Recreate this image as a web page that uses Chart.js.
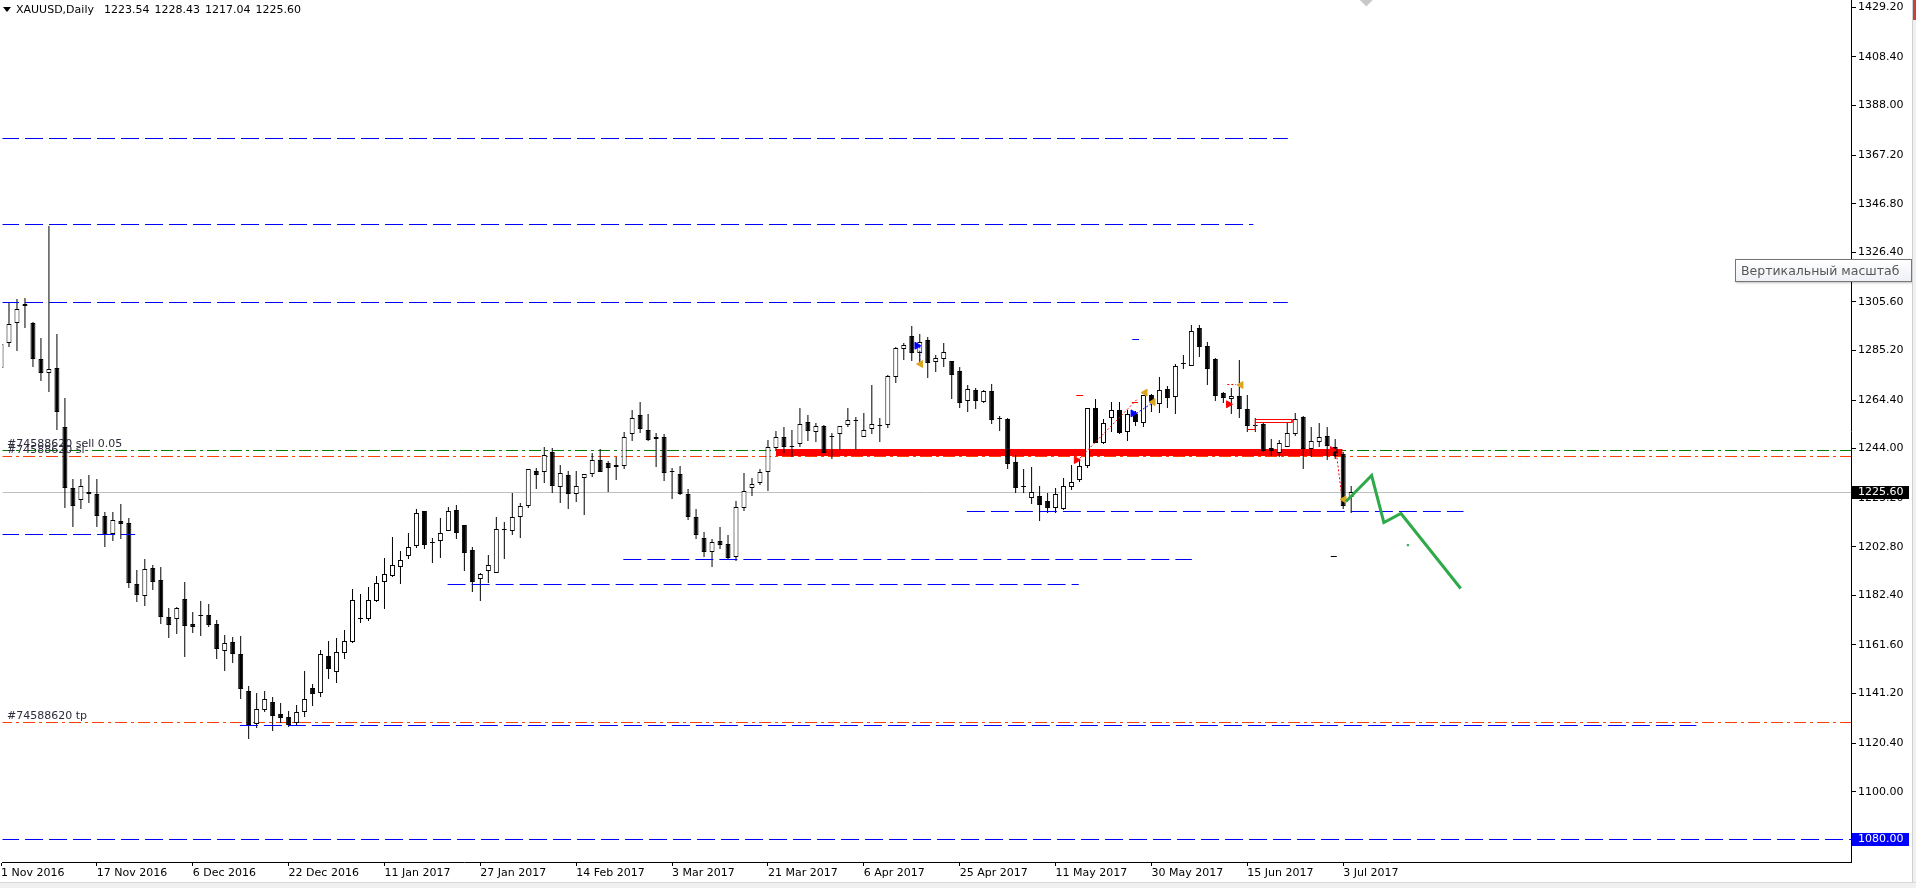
<!DOCTYPE html>
<html>
<head>
<meta charset="utf-8">
<script src="https://cdn.jsdelivr.net/npm/chart.js@4.4.1/dist/chart.umd.min.js"></script>
<style>
html, body { margin: 0; padding: 0; background: #fff; }
#wrap { position: relative; width: 1916px; height: 888px; overflow: hidden; }
#chart { position: absolute; left: 0; top: 0; }
#hdr { position: absolute; left: 16px; top: 3px; font: 11px 'DejaVu Sans', sans-serif; word-spacing: 1.5px; color: #000; white-space: pre; line-height: 13px; }
#tri { position: absolute; left: 3px; top: 7px; width: 0; height: 0; border-left: 4px solid transparent; border-right: 4px solid transparent; border-top: 5px solid #000; }
#tip { position: absolute; left: 1735px; top: 259px; width: 177px; height: 23px; border: 1px solid #767676; background: linear-gradient(#ffffff, #eef0f6); box-shadow: 1px 1px 2px rgba(0,0,0,0.25); font: 12.5px 'DejaVu Sans', sans-serif; color: #575757; line-height: 21px; padding-left: 5px; box-sizing: border-box; white-space: nowrap; overflow: hidden; }
#edge { position: absolute; left: 1912px; top: 0; width: 4px; height: 888px; background: #f0f0f0; border-left: 1px solid #d0d0d0; }
#edgeRed { position: absolute; left: 1913px; top: 0; width: 3px; height: 20px; background: #c84040; }
#foot { position: absolute; left: 0; top: 882px; width: 1916px; height: 6px; background: #f0f0f0; border-top: 1px solid #d8d8d8; }
</style>
</head>
<body>
<div id="wrap">
  <canvas id="chart" width="1916" height="888"></canvas>
  <div id="tri"></div>
  <div id="hdr">XAUUSD,Daily  1223.54 1228.43 1217.04 1225.60</div>
  <div id="tip">Вертикальный масштаб</div>
  <div id="edge"></div>
  <div id="edgeRed"></div>
  <div id="foot"></div>
</div>
<script>
Chart.defaults.font.family = "'DejaVu Sans', sans-serif";
Chart.defaults.font.size = 11;
Chart.defaults.color = '#000';

// date ticks every 12 bars, bar 0 = 1 Nov 2016
const dateLabels = ['1 Nov 2016', '17 Nov 2016', '6 Dec 2016', '22 Dec 2016', '11 Jan 2017', '27 Jan 2017',
    '14 Feb 2017', '3 Mar 2017', '21 Mar 2017', '6 Apr 2017', '25 Apr 2017', '11 May 2017',
    '30 May 2017', '15 Jun 2017', '3 Jul 2017'];
const dateTickIdx = [0, 12, 24, 36, 48, 60, 72, 84, 96, 108, 120, 132, 144, 156, 168];
const priceTicks = [1429.2, 1408.4, 1388.0, 1367.2, 1346.8, 1326.4, 1305.6, 1285.2, 1264.4, 1244.0,
    1223.2, 1202.8, 1182.4, 1161.6, 1141.2, 1120.4, 1100.0, 1080.0];

const opens = [1278,1288.2,1296.6,1304.5,1296.6,1281.5,1275.6,1277.7,1252.9,1227.3,
    1222.5,1225.6,1224.8,1215.7,1208.0,1213.6,1212.6,1187.0,1182.0,1193.8,
    1188.9,1173.2,1172.4,1180.7,1170.4,1174.2,1174.0,1170.3,1159.0,1162.7,
    1157.7,1142.1,1128.3,1134.3,1137.5,1132.5,1131.2,1128.7,1133.6,1143.7,
    1141.3,1157.0,1150.1,1158.1,1162.8,1172.7,1172.6,1180.2,1188.1,1190.7,
    1194.2,1199.1,1203.3,1217.7,1204.5,1205.1,1209.3,1218.1,1211.8,1201.3,
    1189.1,1192.6,1191.7,1210.1,1209.4,1215.2,1219.8,1234.6,1234.1,1242.4,
    1228.0,1232.8,1224.8,1231.5,1233.2,1239.1,1237.8,1236.2,1236.6,1250.1,
    1258.1,1251.8,1247.9,1248.9,1234.4,1233.2,1225.0,1215.2,1206.4,1200.5,
    1205.2,1203.8,1198.7,1218.9,1227.3,1229.4,1234.0,1244.1,1248.9,1244.9,
    1245.8,1255.0,1250.8,1253.5,1249.0,1250.0,1253.8,1255.9,1249.0,1252.1,
    1253.9,1254.0,1274.2,1285.9,1291.3,1284.3,1289.6,1280.5,1281.7,1280.8,
    1276.6,1264.1,1268.6,1263.7,1268.2,1256.7,1256.4,1238.2,1227.9,1223.1,
    1224.1,1222.0,1218.9,1218.5,1228.0,1230.8,1236.8,1260.9,1246.5,1257.0,
    1260.2,1251.1,1258.5,1254.6,1266.6,1262.6,1268.9,1265.5,1279.9,1278.8,
    1294.5,1287.1,1281.6,1267.2,1265.0,1266.1,1260.6,1253.8,1254.3,1244.3,
    1242.3,1244.8,1250.0,1257.1,1244.0,1246.6,1249.3,1244.8,1241.7,1223.54];
const highs = [1290,1305.4,1306.6,1307.1,1297.0,1290.3,1337.6,1292.1,1265.1,1231.1,
    1231.1,1232.9,1231.1,1217.5,1217.3,1220.8,1214.8,1193.1,1197.5,1195.2,
    1194.5,1177.0,1177.7,1188.0,1175.3,1180.0,1178.8,1171.9,1165.8,1164.9,
    1165.4,1144.4,1141.3,1142.3,1139.8,1137.1,1133.9,1136.4,1150.7,1145.2,
    1159.5,1163.3,1164.4,1167.9,1184.9,1183.0,1185.8,1190.5,1198.1,1206.9,
    1201.0,1208.7,1218.7,1217.8,1206.3,1214.9,1219.3,1220.2,1211.9,1202.6,
    1191.7,1199.2,1215.2,1213.2,1225.2,1221.0,1235.3,1235.7,1244.5,1244.1,
    1237.1,1234.8,1234.6,1233.2,1242.0,1243.8,1238.7,1240.3,1250.8,1260.2,
    1263.4,1258.5,1250.4,1250.0,1236.0,1236.7,1227.1,1218.5,1209.0,1205.9,
    1211.1,1207.8,1222.0,1233.8,1231.5,1235.3,1247.6,1251.4,1253.1,1251.8,
    1261.0,1258.0,1254.6,1253.8,1250.7,1253.3,1260.9,1257.1,1258.8,1270.7,
    1256.7,1274.8,1286.5,1288.2,1295.5,1292.1,1290.7,1283.3,1288.2,1280.8,
    1278.3,1270.7,1269.3,1268.6,1271.1,1257.7,1256.7,1241.3,1235.4,1236.1,
    1228.3,1225.2,1227.3,1231.7,1237.1,1238.8,1261.0,1264.8,1256.4,1263.4,
    1263.4,1260.2,1259.8,1266.5,1266.9,1273.9,1270.3,1279.5,1283.3,1295.9,
    1295.9,1288.6,1281.9,1267.9,1269.3,1281.2,1266.5,1256.7,1255.3,1248.0,
    1247.6,1254.6,1258.8,1257.7,1253.2,1254.6,1253.2,1247.9,1242.7,1228.43];
const lows = [1274,1286.8,1285.1,1294.5,1278.1,1272.5,1267.9,1251.8,1218.9,1211.3,
    1218.5,1221.3,1211.0,1202.6,1205.4,1205.9,1185.4,1179.5,1178.0,1184.5,
    1170.5,1164.5,1166.2,1156.7,1166.5,1165.5,1169.0,1155.8,1150.8,1154.2,
    1138.8,1122.3,1126.6,1133.6,1125.6,1129.0,1127.3,1128.0,1131.5,1136.1,
    1139.9,1147.3,1145.8,1155.8,1162.6,1170.7,1171.8,1179.6,1176.8,1190.3,
    1187.2,1197.8,1202.4,1202.0,1195.8,1198.2,1209.3,1206.2,1192.8,1184.0,
    1180.2,1187.7,1191.7,1197.8,1207.9,1206.7,1219.0,1227.2,1229.7,1225.5,
    1221.3,1218.8,1221.7,1216.3,1232.0,1234.3,1225.9,1230.8,1235.6,1247.3,
    1250.4,1247.3,1236.4,1230.6,1222.7,1224.5,1214.0,1206.1,1198.7,1194.5,
    1202.0,1197.3,1197.0,1218.0,1224.3,1228.7,1226.4,1243.4,1242.3,1240.6,
    1244.5,1247.3,1246.9,1242.0,1239.5,1243.4,1253.2,1243.4,1249.0,1250.1,
    1246.9,1252.6,1271.7,1281.2,1280.9,1279.1,1273.8,1276.3,1278.1,1264.8,
    1261.2,1259.5,1260.8,1263.0,1254.2,1251.5,1235.4,1225.2,1225.5,1220.8,
    1213.8,1217.1,1216.8,1218.2,1226.6,1230.1,1236.0,1246.5,1245.8,1251.1,
    1250.1,1247.3,1253.6,1253.2,1259.5,1259.1,1261.2,1258.5,1277.4,1278.8,
    1282.3,1270.7,1264.1,1263.0,1258.5,1257.0,1251.1,1251.1,1242.7,1241.0,
    1240.6,1244.5,1249.3,1235.6,1240.6,1244.5,1239.2,1239.5,1218.5,1217.04];
const closes = [1288,1296.2,1302.6,1304.0,1281.5,1275.6,1277.3,1259.2,1227.3,1220.1,
    1228.4,1224.8,1215.9,1207.8,1214.0,1212.2,1187.5,1182.5,1193.4,1188.2,
    1173.5,1170.0,1177.0,1169.7,1169.3,1173.6,1170.1,1159.8,1162.3,1158.0,
    1143.0,1128.0,1134.6,1138.8,1131.9,1131.1,1128.0,1133.6,1138.8,1141.2,
    1157.7,1151.7,1158.5,1163.1,1180.3,1172.3,1180.3,1187.5,1191.2,1195.0,
    1197.1,1202.6,1216.8,1203.7,1204.2,1208.8,1217.8,1208.8,1200.0,1188.2,
    1191.2,1195.0,1210.1,1210.0,1215.4,1219.8,1235.3,1233.1,1241.2,1228.5,
    1233.6,1225.1,1228.2,1233.2,1239.1,1234.3,1235.7,1237.0,1249.0,1256.7,
    1252.4,1247.8,1249.0,1233.9,1234.2,1225.1,1215.4,1207.8,1200.8,1204.7,
    1203.7,1198.2,1219.4,1226.1,1229.2,1234.0,1244.5,1248.7,1244.8,1244.7,
    1254.2,1251.5,1253.3,1242.3,1248.7,1253.3,1255.9,1255.7,1251.7,1254.2,
    1253.7,1274.3,1286.1,1287.3,1284.3,1288.9,1279.8,1281.9,1284.4,1275.0,
    1263.3,1268.9,1264.1,1268.2,1256.0,1256.3,1237.5,1227.6,1227.7,1225.6,
    1220.3,1218.9,1224.9,1228.2,1229.8,1236.7,1260.9,1246.5,1254.9,1260.2,
    1250.7,1258.4,1255.3,1266.5,1263.3,1268.6,1265.4,1278.7,1279.7,1293.5,
    1286.8,1277.4,1266.1,1265.4,1266.1,1260.8,1253.6,1253.5,1243.1,1242.9,
    1246.2,1250.4,1256.4,1243.7,1247.2,1248.7,1245.1,1240.9,1219.9,1225.60];

// blue dashed trend levels: price, from bar, to bar
const levelPrices = [1374.3, 1338.1, 1305.4, 1208.0, 1217.7, 1197.5, 1187.1, 1128.0, 1080.0];
const levelFrom = [-3, -3, -3, -3, 120.9, 77.9, 55.9, 29.9, -3];
const levelTo = [161.06, 156.75, 161.06, 16.8, 183.06, 149.06, 134.9, 212.2, 240];

// order lines
const bidPrice = 1225.60;
const sellPrice = 1243.4;
const slPrice = 1240.8;
const tpPrice = 1129.2;
const orderLabels = ['#74588620 sell 0.05', '#74588620 sl', '#74588620 tp'];
const orderLevels = [sellPrice, slPrice, tpPrice];

// thick red zone
const redZone = [[97.0, 1242.4], [167.9, 1242.4]];

// green projection zigzag
const projX = [168.35, 171.56, 173.09, 175.23, 182.71];
const projY = [1222.0, 1232.8, 1212.8, 1216.9, 1185.1];

// trade history objects
const redDotted = [
    [[135.0, 1240.0], [142.3, 1265.1]],
    [[153.5, 1270.7], [154.6, 1270.7]],
    [[167.15, 1242.0], [167.9, 1221.7]]
];
const blueDotted = [
    [[142.1, 1258.8], [144.2, 1263.3]],
    [[115.0, 1286.7], [115.0, 1279.7]]
];
const redRect = [[156.0, 1252.2], [157.0, 1252.2], [157.0, 1256.4], [161.6, 1256.4], [161.6, 1255.0], [157.0, 1255.0]];
const smallDashes = [
    { pts: [[134.6, 1266.4], [135.45, 1266.4]], color: '#ff0000' },
    { pts: [[141.6, 1289.9], [142.45, 1289.9]], color: '#0000ff' },
    { pts: [[166.45, 1198.9], [167.2, 1198.9]], color: '#000000' },
    { pts: [[141.55, 1263.4], [142.3, 1263.4]], color: '#ff0000' }
];
const redArrows = [[134.6, 1239.2], [153.65, 1262.6], [166.65, 1243.4]];
const blueArrows = [[114.65, 1287.2], [141.7, 1258.8]];
const goldMarks = [[115.1, 1279.5], [143.2, 1267.5], [144.2, 1263.5], [155.2, 1270.7], [168.1, 1222.7]];
const greenDot = [[176.1, 1203.5]];
const greyDiamond = [[170.9, 1432.7]];

// pixel mapping: bar i centre at -1.5 + 8 * i, plot 1851 px wide, 862 px high
const xMin = 0.1875;
const xMax = xMin + 1851 / 8;
const yMax = 1432.26;
const yMin = yMax - 862 / 2.383;

const pts = arr => arr.map(([x, y]) => ({ x, y }));

function seg(points, color, width, dash, order) {
    return {
        type: 'line', data: pts(points), borderColor: color, borderWidth: width,
        borderDash: dash, pointRadius: 0, fill: false, tension: 0, order: order,
        borderCapStyle: 'butt'
    };
}

function marks(points, color, style, rot, r, order) {
    return {
        type: 'line', showLine: false, data: pts(points), pointStyle: style, rotation: rot,
        pointRadius: r, pointBackgroundColor: color, pointBorderColor: color, pointBorderWidth: 1, order: order
    };
}

const datasets = [];

// order lines behind candles
datasets.push(seg([[-3, bidPrice], [240, bidPrice]], '#c0c0c0', 1, [], 30));
datasets.push(seg([[-3, sellPrice], [240, sellPrice]], '#008000', 1, [12, 4, 3, 4], 29));
datasets.push(seg([[-3, slPrice], [240, slPrice]], '#ff4000', 1, [12, 4, 3, 4], 29));
datasets.push(seg([[-3, tpPrice], [240, tpPrice]], '#ff4000', 1, [12, 4, 3, 4], 29));
datasets.push(seg(redZone, '#ff0000', 7, [], 20));

// candles
datasets.push({
    type: 'bar', data: lows.map((l, i) => ({ x: i, y: [l, highs[i]] })),
    backgroundColor: '#000', borderWidth: 0, barThickness: 1, grouped: false,
    inflateAmount: 0, order: 11
});
datasets.push({
    type: 'bar', data: opens.map((o, i) => ({ x: i, y: [o, closes[i]] })),
    backgroundColor: closes.map((c, i) => c >= opens[i] ? '#ffffff' : '#000000'),
    borderColor: '#000', borderWidth: 1, borderSkipped: false, barThickness: 5, grouped: false,
    inflateAmount: 0, minBarLength: 1, order: 10
});

// blue dashed levels
levelPrices.forEach((p, k) => {
    datasets.push(seg([[levelFrom[k], p], [levelTo[k], p]], '#0000ff', 1, [18, 6], 5));
});

// trade history objects
redDotted.forEach(s => datasets.push(seg(s, '#ff0000', 1, [2, 2], 4)));
blueDotted.forEach(s => datasets.push(seg(s, '#0000ff', 1, [2, 2], 4)));
datasets.push(seg(redRect, '#ff0000', 1, [], 4));
smallDashes.forEach(s => datasets.push(seg(s.pts, s.color, 1, [], 4)));
datasets.push(marks(redArrows, '#ff0000', 'triangle', 90, 4, 2));
datasets.push(marks(blueArrows, '#0000ff', 'triangle', 90, 4, 2));
datasets.push(marks(goldMarks, '#daa520', 'triangle', -90, 4, 2));
datasets.push(marks(greenDot, '#2eaa4a', 'rect', 0, 1, 2));
datasets.push(marks(greyDiamond, '#c8c8c8', 'rectRot', 0, 7, 2));

// projection
datasets.push(seg(projX.map((x, k) => [x, projY[k]]), '#2eaa4a', 3, [], 1));

// keep the plot flush with the top edge like the terminal does
const flushTop = {
    id: 'flushTop',
    afterLayout(chart) {
        const area = chart.chartArea;
        const y = chart.scales.y;
        area.top = 0;
        area.height = area.bottom;
        y.top = 0;
        y.height = y.bottom;
        y.configure();
    }
};

// snap thin lines and candles onto whole pixels so they render sharp
const crisp = {
    id: 'crisp',
    afterDatasetsUpdate(chart) {
        chart.data.datasets.forEach((ds, k) => {
            const meta = chart.getDatasetMeta(k);
            if (ds.type === 'line' && ds.showLine !== false) {
                const odd = ds.borderWidth % 2 === 1;
                meta.data.forEach(p => { p.y = odd ? Math.floor(p.y) + 0.5 : Math.round(p.y); });
            } else if (ds.type === 'bar') {
                meta.data.forEach(b => {
                    b.y = Math.round(b.y);
                    b.base = Math.round(b.base);
                    if (Math.abs(b.base - b.y) < 1) b.base = b.y + 1;
                });
            }
        });
    }
};

const overlay = {
    id: 'overlay',
    afterDraw(chart) {
        const { ctx } = chart;
        const y = chart.scales.y;
        ctx.save();
        ctx.font = "11px 'DejaVu Sans'";
        ctx.textBaseline = 'alphabetic';
        ctx.textAlign = 'left';
        ctx.fillStyle = '#2b2b3b';
        orderLabels.forEach((t, k) => {
            ctx.fillText(t, 7, Math.round(y.getPixelForValue(orderLevels[k])) - 3);
        });
        const boxes = [[bidPrice, '#000000'], [1080.0, '#0000ff']];
        boxes.forEach(([p, col]) => {
            const py = Math.round(y.getPixelForValue(p));
            ctx.fillStyle = col;
            ctx.fillRect(1852, py - 6, 57, 13);
            ctx.fillStyle = '#ffffff';
            ctx.textBaseline = 'middle';
            ctx.fillText(p.toFixed(2), 1858, py + 0.5);
        });
        ctx.restore();
    }
};

new Chart(document.getElementById('chart'), {
    type: 'bar',
    data: { datasets: datasets },
    plugins: [flushTop, crisp, overlay],
    options: {
        responsive: false,
        animation: false,
        devicePixelRatio: 1,
        events: [],
        layout: { padding: 0, autoPadding: false },
        plugins: { legend: { display: false }, tooltip: { enabled: false } },
        scales: {
            x: {
                type: 'linear', min: xMin, max: xMax, offset: false,
                afterBuildTicks: s => { s.ticks = dateTickIdx.map(v => ({ value: v })); },
                afterFit: s => { s.height = 26; },
                ticks: {
                    autoSkip: false, maxRotation: 0, minRotation: 0, align: 'start', padding: 1,
                    color: '#000', callback: (v, k) => dateLabels[k]
                },
                grid: { drawOnChartArea: false, drawTicks: true, tickLength: 4, color: '#000', offset: false },
                border: { display: true, color: '#000' }
            },
            y: {
                type: 'linear', position: 'right', min: yMin, max: yMax,
                afterBuildTicks: s => { s.ticks = priceTicks.map(v => ({ value: v })); },
                afterFit: s => { s.width = 65; },
                ticks: { autoSkip: false, padding: 2, color: '#000', callback: v => v.toFixed(2) },
                grid: { drawOnChartArea: false, drawTicks: true, tickLength: 5, color: '#000' },
                border: { display: true, color: '#000' }
            }
        }
    }
});
</script>
</body>
</html>
